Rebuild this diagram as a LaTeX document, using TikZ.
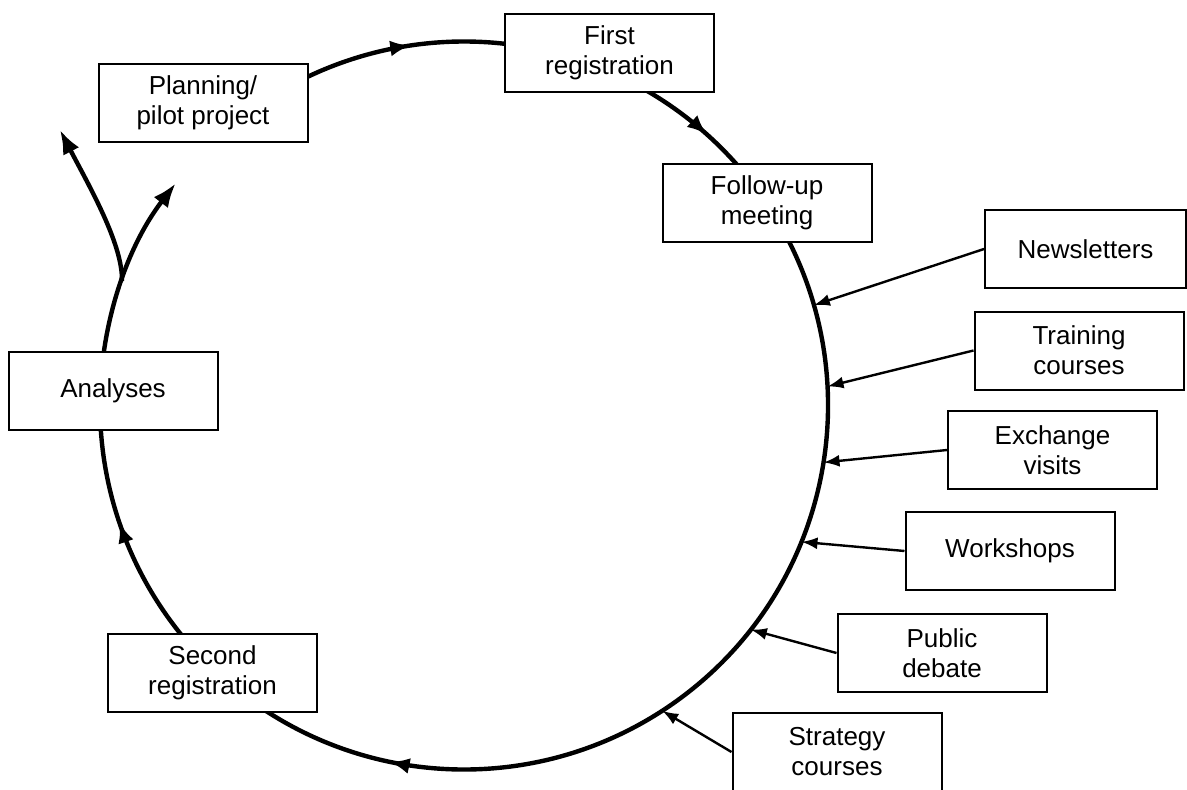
\documentclass[tikz,border=0pt]{standalone}
\usepackage{fontspec}
\setmainfont{Liberation Sans}
\usetikzlibrary{arrows.meta,decorations.markings}

\tikzset{
      stagebox/.style={
        draw,
        fill=white,
        line width=1pt,
        align=center,
        inner sep=2pt,
        minimum width=104.5pt,
        minimum height=39pt,
        font=\fontsize{13}{15}\selectfont
      },
      cycline/.style={
        line width=2.2pt
      },
      cycarrow/.style={
        postaction={decorate},
        decoration={markings,
          mark=at position #1 with {\arrow{Latex[length=10pt,width=8pt]}}}
      },
      forkarrow/.style={
        line width=2.2pt,
        -{Latex[length=12pt,width=9pt]}
      },
      feed/.style={
        line width=1.2pt,
        -{Latex[length=8pt,width=6pt]}
      },
    }

\begin{document}
\begin{tikzpicture}[x=0.5pt,y=0.5pt]
          \useasboundingbox (0,0) rectangle (1187,789);

          \node[circle,minimum size=364pt,inner sep=0pt,outer sep=0pt]
            (ring) at (464,383.5) {};
          \coordinate (fork) at (ring.160);
          \coordinate (tipA) at (60,659);
          \coordinate (tipB) at (ring.142.4);

          % the cycle, clockwise
          \draw[cycline,cycarrow=0.478] (ring.120) arc[start angle=120,end angle=75,radius=182pt];
          \draw[cycline,cycarrow=0.563] (ring.65) arc[start angle=65,end angle=35,radius=182pt];
          \draw[cycline,cycarrow=0.855] (ring.35) arc[start angle=35,end angle=-125,radius=182pt];
          \draw[cycline,cycarrow=0.582] (ring.225) arc[start angle=225,end angle=180,radius=182pt];
          \draw[forkarrow] (ring.180) arc[start angle=180,end angle=142.4,radius=182pt];
          \draw[forkarrow] (fork) .. controls (123,545) and (88,605) .. (tipA);

          \node[stagebox] (plan) at (203,686) {Planning/\\pilot project};
          \node[stagebox] (first) at (609.5,736) {First\\registration};
          \node[stagebox] (follow) at (767,586) {Follow-up\\meeting};
          \node[stagebox] (second) at (212.5,116.5) {Second\\registration};
          \node[stagebox] (analyses) at (113,398) {Analyses};

          \node[stagebox,minimum width=100.5pt] (news) at (1085.5,540) {Newsletters};
          \node[stagebox] (train) at (1079,438.5) {Training\\courses};
          \node[stagebox] (exch) at (1052.5,339) {Exchange\\visits};
          \node[stagebox] (work) at (1010,238) {Workshops};
          \node[stagebox] (debate) at (942,136) {Public\\debate};
          \node[stagebox] (strat) at (837,37) {Strategy\\courses};

          \draw[feed] (news.west) -- (ring.16.6);
          \draw[feed] (train.west) -- (ring.3.8);
          \draw[feed] (exch.west) -- (ring.-9.4);
          \draw[feed] (work.west) -- (ring.-22.7);
          \draw[feed] (debate.west) -- (ring.-38);
          \draw[feed] (strat.west) -- (ring.-57.5);
\end{tikzpicture}
\end{document}
